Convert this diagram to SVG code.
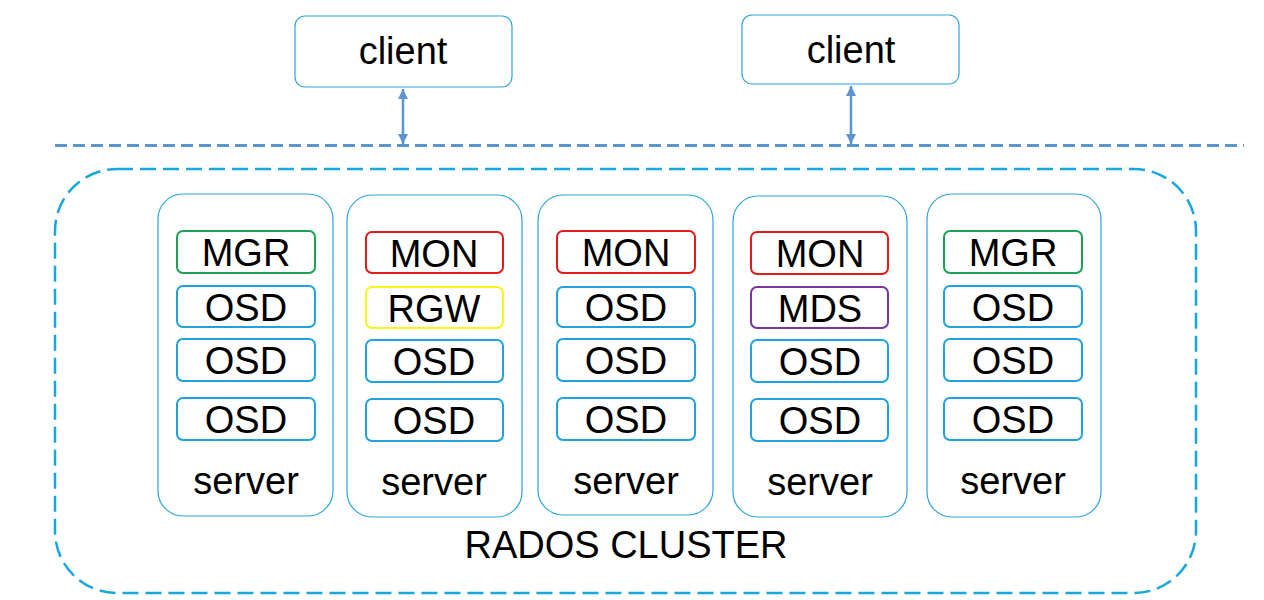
<svg xmlns="http://www.w3.org/2000/svg" width="1264" height="600" viewBox="0 0 1264 600">
<defs>
<style>
text{font-family:"Liberation Sans",Arial,sans-serif;fill:#000;text-anchor:middle}
.t{font-size:38px}
.client{fill:#fff;stroke:#2aa5dc;stroke-width:1.2}
.server{fill:#fff;stroke:#2aa5dc;stroke-width:1.2}
.in{fill:#fff;stroke-width:2}
.osd{stroke:#1ea3e0}
.mgr{stroke:#1aa352}
.mon{stroke:#e31a1a}
.rgw{stroke:#f5f51a}
.mds{stroke:#7a35a0}
.link{stroke:#5b94d0;stroke-width:2.5;fill:none}
</style>
<marker id="ah" viewBox="0 0 10 10" refX="10" refY="5" markerWidth="4" markerHeight="4" orient="auto-start-reverse">
<path d="M0,0 L10,5 L0,10 z" fill="#5b94d0"/>
</marker>
</defs>
<rect width="1264" height="600" fill="#fff"/>

<g id="cluster">
<rect x="55" y="169" width="1141" height="424" rx="62" ry="62" fill="none" stroke="#17a7e0" stroke-width="2.5" stroke-dasharray="16,7"/>
<text class="t" x="626" y="558">RADOS CLUSTER</text>
</g>

<g id="client1">
<rect class="client" x="295" y="16" width="217" height="71" rx="10"/>
<text class="t" x="403" y="64">client</text>
</g>
<g id="client2">
<rect class="client" x="742" y="15" width="217" height="69" rx="10"/>
<text class="t" x="851" y="63">client</text>
</g>

<g id="connectors">
<line x1="55" y1="145.5" x2="1244" y2="145.5" stroke="#5b94d0" stroke-width="3" stroke-dasharray="12,6"/>
<line class="link" x1="403" y1="89" x2="403" y2="144" marker-start="url(#ah)" marker-end="url(#ah)"/>
<line class="link" x1="851" y1="86" x2="851" y2="144" marker-start="url(#ah)" marker-end="url(#ah)"/>
</g>

<g id="server1">
<rect class="server" x="158" y="194" width="175" height="322" rx="25"/>
<rect class="in mgr" x="177" y="231" width="138" height="42" rx="6"/><text class="t" x="246" y="266">MGR</text>
<rect class="in osd" x="177" y="286" width="138" height="41" rx="6"/><text class="t" x="246" y="321">OSD</text>
<rect class="in osd" x="177" y="339" width="138" height="42" rx="6"/><text class="t" x="246" y="374">OSD</text>
<rect class="in osd" x="177" y="398" width="138" height="42" rx="6"/><text class="t" x="246" y="433">OSD</text>
<text class="t" x="246" y="494">server</text>
</g>

<g id="server2">
<rect class="server" x="347" y="195" width="175" height="322" rx="25"/>
<rect class="in mon" x="366" y="232" width="137" height="41" rx="6"/><text class="t" x="434" y="267">MON</text>
<rect class="in rgw" x="366" y="287" width="137" height="41" rx="6"/><text class="t" x="434" y="322">RGW</text>
<rect class="in osd" x="366" y="340" width="137" height="42" rx="6"/><text class="t" x="434" y="375">OSD</text>
<rect class="in osd" x="366" y="399" width="137" height="42" rx="6"/><text class="t" x="434" y="434">OSD</text>
<text class="t" x="434" y="495">server</text>
</g>

<g id="server3">
<rect class="server" x="538" y="195" width="175" height="320" rx="25"/>
<rect class="in mon" x="557" y="231" width="138" height="42" rx="6"/><text class="t" x="626" y="266">MON</text>
<rect class="in osd" x="557" y="287" width="138" height="40" rx="6"/><text class="t" x="626" y="321">OSD</text>
<rect class="in osd" x="557" y="339" width="138" height="42" rx="6"/><text class="t" x="626" y="374">OSD</text>
<rect class="in osd" x="557" y="398" width="138" height="42" rx="6"/><text class="t" x="626" y="433">OSD</text>
<text class="t" x="626" y="494">server</text>
</g>

<g id="server4">
<rect class="server" x="733" y="196" width="174" height="321" rx="25"/>
<rect class="in mon" x="751" y="232" width="137" height="42" rx="6"/><text class="t" x="820" y="267">MON</text>
<rect class="in mds" x="751" y="287" width="137" height="41" rx="6"/><text class="t" x="820" y="322">MDS</text>
<rect class="in osd" x="751" y="340" width="137" height="42" rx="6"/><text class="t" x="820" y="375">OSD</text>
<rect class="in osd" x="751" y="399" width="137" height="42" rx="6"/><text class="t" x="820" y="434">OSD</text>
<text class="t" x="820" y="495">server</text>
</g>

<g id="server5">
<rect class="server" x="927" y="194" width="174" height="323" rx="25"/>
<rect class="in mgr" x="944" y="231" width="138" height="42" rx="6"/><text class="t" x="1013" y="266">MGR</text>
<rect class="in osd" x="944" y="286" width="138" height="41" rx="6"/><text class="t" x="1013" y="321">OSD</text>
<rect class="in osd" x="944" y="339" width="138" height="42" rx="6"/><text class="t" x="1013" y="374">OSD</text>
<rect class="in osd" x="944" y="398" width="138" height="42" rx="6"/><text class="t" x="1013" y="433">OSD</text>
<text class="t" x="1013" y="494">server</text>
</g>
</svg>
